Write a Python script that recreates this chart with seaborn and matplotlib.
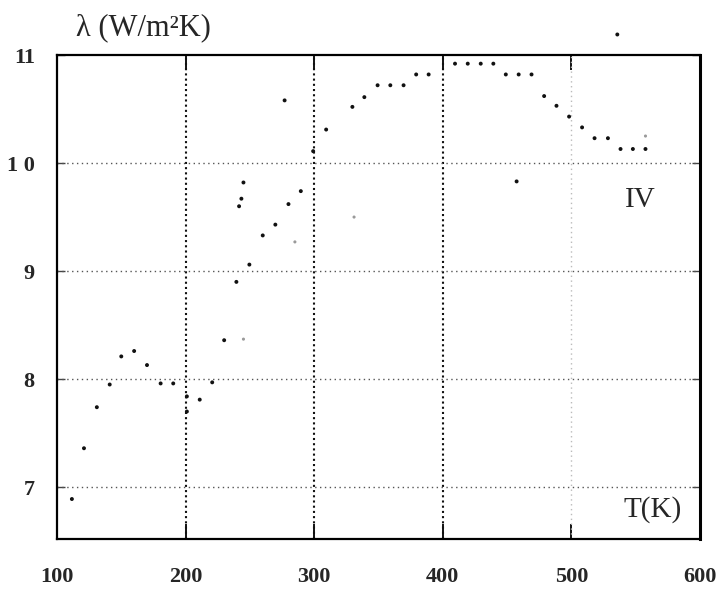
import matplotlib
matplotlib.use("Agg")
import matplotlib.pyplot as plt
import seaborn as sns
import pandas as pd

# --- data ---
T = [111.6, 121, 131, 141, 150, 160, 170, 180.6, 190.4, 201, 201, 211, 220.7, 230,
     239.5, 249.6, 241.6, 243.4, 245, 260, 269.8, 280, 289.6, 277, 299.2, 309.3, 329.7,
     339, 349.3, 359.2, 369.5, 379.3, 389, 409.5, 419.4, 429.5, 439.3, 449, 459, 469,
     478.8, 488.4, 498.2, 508.3, 518, 528.4, 538.2, 547.8, 557.6, 457.4, 535.7]
lam = [6.89, 7.36, 7.74, 7.95, 8.21, 8.26, 8.13, 7.96, 7.96, 7.84, 7.70, 7.81, 7.97, 8.36,
       8.90, 9.06, 9.60, 9.67, 9.82, 9.33, 9.43, 9.62, 9.74, 10.58, 10.11, 10.31, 10.52,
       10.61, 10.72, 10.72, 10.72, 10.82, 10.82, 10.92, 10.92, 10.92, 10.92, 10.82, 10.82, 10.82,
       10.62, 10.53, 10.43, 10.33, 10.23, 10.23, 10.13, 10.13, 10.13, 9.83, 11.19]
T_faint = [245, 285, 331, 557.6]
lam_faint = [8.37, 9.27, 9.50, 10.25]

x_ticks = [100, 200, 300, 400, 500, 600]
x_labels = ["100", "200", "300", "400", "500", "600"]
y_ticks = [7, 8, 9, 10, 11]
y_labels = ["7", "8", "9", "1 0", "11"]

sns.set_theme(style="white")
plt.rcParams["font.family"] = ["Liberation Serif", "DejaVu Serif"]

fig = plt.figure(figsize=(7.23, 5.89), dpi=100)
ax = fig.add_axes([0.0788, 0.0849, 0.8894, 0.8217])

df = pd.DataFrame({"T": T, "lam": lam})
dff = pd.DataFrame({"T": T_faint, "lam": lam_faint})
sns.scatterplot(data=dff, x="T", y="lam", ax=ax, s=5, color="#9a9a9a",
                edgecolor="none", linewidth=0, clip_on=False, zorder=3)
sns.scatterplot(data=df, x="T", y="lam", ax=ax, s=8, color="#111111",
                edgecolor="none", linewidth=0, clip_on=False, zorder=4)

ax.set_xlim(100, 600)
ax.set_ylim(6.52, 11)

# grid lines
for xv in [200, 300, 400]:
    ax.axvline(xv, color="#111111", lw=1.5, ls=(0, (1, 1.5)), zorder=1)
ax.axvline(500, color="#bbbbbb", lw=1.0, ls=(0, (1, 2.5)), zorder=1)
for yv in [7, 8, 9, 10]:
    ax.axhline(yv, color="#555555", lw=1.0, ls=(0, (1, 2.5)), zorder=1)

ax.set_xticks(x_ticks)
ax.set_xticklabels(x_labels, fontsize=16, fontweight="bold")
ax.set_yticks(y_ticks)
ax.set_yticklabels(y_labels, fontsize=16, fontweight="bold")
ax.tick_params(axis="x", direction="in", length=11, width=1.3, color="black",
               top=True, bottom=True, pad=20)
ax.tick_params(axis="y", direction="in", length=6, width=1.0, color="#444444",
               left=True, right=True, pad=16)
ax.set_xlabel("")
ax.set_ylabel("")

for side, sp in ax.spines.items():
    sp.set_visible(True)
    sp.set_color("black")
    sp.set_linewidth(1.6)
ax.spines["right"].set_linewidth(2.2)

fig.text(0.105, 0.953, "λ (W/m²K)", fontsize=22, ha="left", va="center")
fig.text(640 / 723, 1 - 200 / 589, "IV", fontsize=21, ha="center", va="center")
fig.text(653 / 723, 1 - 510 / 589, "T(K)", fontsize=21, ha="center", va="center")

fig.savefig("out.png", dpi=100)
